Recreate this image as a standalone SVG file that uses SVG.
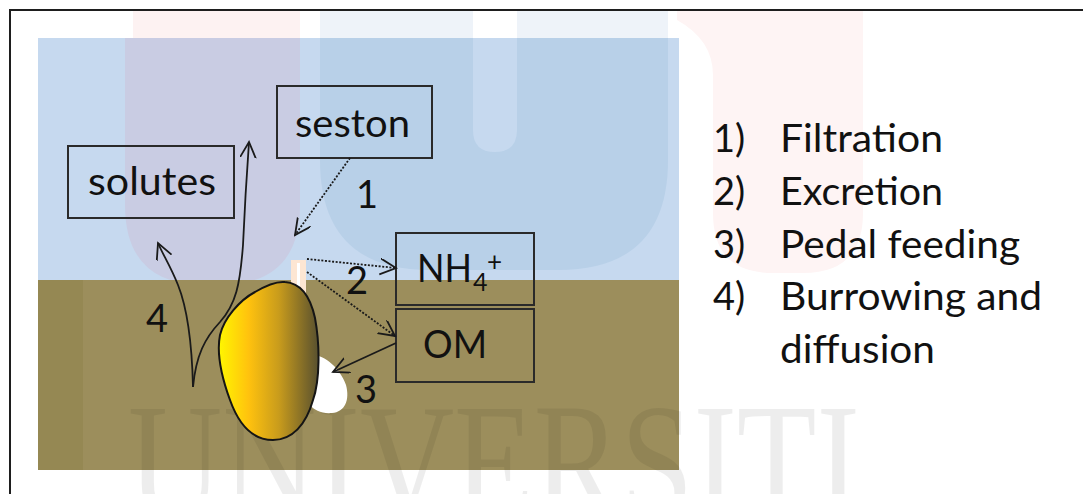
<svg xmlns="http://www.w3.org/2000/svg" width="1083" height="494" viewBox="0 0 1083 494">
  <style>
    .lbl { font-family: "Lato", "Open Sans", "Liberation Sans", sans-serif; font-size: 38px; fill: #111; }
    .box { fill: none; stroke: #2a2a2a; stroke-width: 2; }
    .solid { fill: none; stroke: #1a1a1a; stroke-width: 1.8; }
    .dotted { fill: none; stroke: #1a1a1a; stroke-width: 1.8; stroke-dasharray: 2 1.6; }
    .wm { font-family: "Liberation Serif", "DejaVu Serif", serif; font-size: 170px; fill: #000; fill-opacity: 0.07; }
  </style>
  <defs>
    <marker id="open" markerWidth="18" markerHeight="18" refX="16" refY="8" orient="auto" markerUnits="userSpaceOnUse">
      <path d="M0,0 L16,8 L0,16" fill="none" stroke="#1a1a1a" stroke-width="1.8" stroke-dasharray="none"/>
    </marker>
    <linearGradient id="shell" x1="0" y1="0" x2="1" y2="0">
      <stop offset="0" stop-color="#fff700"/>
      <stop offset="0.3" stop-color="#ffc20e"/>
      <stop offset="0.6" stop-color="#c99c1c"/>
      <stop offset="1" stop-color="#58502f"/>
    </linearGradient>
  </defs>

  <!-- page -->
  <rect x="0" y="0" width="1083" height="494" fill="#fff"/>
  <!-- faint background logo tints above the water -->
  <path d="M133,10 H300 V38 H133 Z" fill="#fdf2f2"/>
  <path d="M320,10 H668 V38 H320 Z" fill="#eef3f9"/>
  <rect x="473" y="10" width="44" height="28" fill="#fff"/>
  <path d="M677,10 H863 V213 Q863,273 803,273 H773 Q713,273 713,213 V75 Q713,40 677,20 Z" fill="#fef4f4"/>

  <!-- water column -->
  <rect x="38" y="38" width="641" height="242" fill="#c6d9ef"/>
  <path d="M125,38 H300 V205 Q300,285 220,285 H205 Q125,285 125,205 Z" fill="#c9cce3"/>
  <path d="M320,38 H668 V160 Q668,270 558,270 H430 Q320,270 320,160 Z" fill="#b8d0e8"/>
  <path d="M473,38 H517 V130 Q517,152 495,152 Q473,152 473,130 Z" fill="#c6d9ef"/>

  <!-- sediment -->
  <rect x="38" y="280" width="641" height="190" fill="#9c8e5c"/>
  <rect x="38" y="280" width="45" height="190" fill="#958853"/>

  <!-- background lettering -->
  <text class="wm" x="128" y="520" textLength="732" lengthAdjust="spacingAndGlyphs">UNIVERSITI</text>

  <!-- outer frame -->
  <rect x="10" y="10" width="1100" height="520" fill="none" stroke="#1e1e1e" stroke-width="2"/>

  <!-- bivalve: siphon, foot, shell -->
  <g id="bivalve">
    <rect x="291" y="260" width="15" height="42" fill="#fde6d3"/>
    <rect x="297" y="263" width="3" height="36" fill="#fff"/>
    <path d="M312,355 C325,355 340,368 346,385 C350,400 345,412 332,413 C322,414 314,410 310,405 Z" fill="#fff"/>
    <path d="M285,282 C300,283 310,295 315,318 C320,345 320,380 313,400 C306,425 292,440 273,440 C255,440 240,428 230,400 C222,378 216,355 220,335 C224,318 240,300 255,292 C265,286 275,281 285,282 Z" fill="url(#shell)" stroke="#151515" stroke-width="2"/>
  </g>

  <!-- compartments -->
  <g id="solutes">
    <rect class="box" x="68" y="146" width="166" height="72"/>
    <text class="lbl" x="88" y="195" textLength="128" lengthAdjust="spacingAndGlyphs">solutes</text>
  </g>
  <g id="seston">
    <rect class="box" x="277" y="86" width="155" height="72"/>
    <text class="lbl" x="295" y="137" textLength="115" lengthAdjust="spacingAndGlyphs">seston</text>
  </g>
  <g id="nh4">
    <rect class="box" x="396" y="233" width="138" height="72"/>
    <text class="lbl" x="417" y="282" textLength="55" lengthAdjust="spacingAndGlyphs">NH</text>
    <text class="lbl" x="473" y="291" style="font-size:25px">4</text>
    <text class="lbl" x="487" y="271" style="font-size:26px">+</text>
  </g>
  <g id="om">
    <rect class="box" x="396" y="309" width="138" height="73"/>
    <text class="lbl" x="423" y="358" textLength="64" lengthAdjust="spacingAndGlyphs">OM</text>
  </g>

  <!-- fluxes -->
  <g id="connectors">
    <path class="dotted" d="M350,158 L295,235" marker-end="url(#open)"/>
    <path class="dotted" d="M307,259 L396,268" marker-end="url(#open)"/>
    <path class="dotted" d="M307,272 L395,336" marker-end="url(#open)"/>
    <path class="solid" d="M396,343 L333,372" marker-end="url(#open)"/>
    <path class="solid" d="M193,387 C192,345 188,310 178,285 C170,265 163,255 158,243" marker-end="url(#open)"/>
    <path class="solid" d="M193,387 C196,355 205,338 220,322 C236,304 240,285 243,245 C245,200 247,170 249,142" marker-end="url(#open)"/>
  </g>

  <!-- process numbers -->
  <g id="numbers">
    <text class="lbl" x="367" y="208" text-anchor="middle">1</text>
    <text class="lbl" x="357" y="294" text-anchor="middle">2</text>
    <text class="lbl" x="366" y="403" text-anchor="middle">3</text>
    <text class="lbl" x="157" y="332" text-anchor="middle">4</text>
  </g>

  <!-- legend -->
  <g id="legend">
    <text class="lbl" x="713" y="152">1)</text>
    <text class="lbl" x="780" y="152" textLength="163" lengthAdjust="spacingAndGlyphs">Filtration</text>
    <text class="lbl" x="713" y="205">2)</text>
    <text class="lbl" x="780" y="205" textLength="163" lengthAdjust="spacingAndGlyphs">Excretion</text>
    <text class="lbl" x="713" y="258">3)</text>
    <text class="lbl" x="780" y="258" textLength="240" lengthAdjust="spacingAndGlyphs">Pedal feeding</text>
    <text class="lbl" x="713" y="310">4)</text>
    <text class="lbl" x="780" y="310" textLength="262" lengthAdjust="spacingAndGlyphs">Burrowing and</text>
    <text class="lbl" x="780" y="363" textLength="155" lengthAdjust="spacingAndGlyphs">diffusion</text>
  </g>
</svg>
